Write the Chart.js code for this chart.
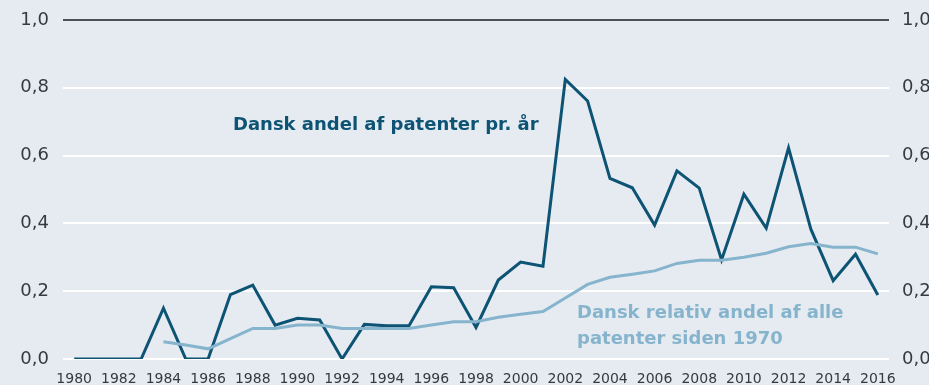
<!DOCTYPE html>
<html>
<head>
<meta charset="utf-8">
<script src="https://cdn.jsdelivr.net/npm/chart.js@4/dist/chart.umd.min.js"></script>
<style>
  html, body { margin: 0; padding: 0; background: #e5ebf1; }
  #wrap { width: 929px; height: 385px; position: relative; }
</style>
</head>
<body>
<div id="wrap"><canvas id="patentChart" width="929" height="385"></canvas></div>
<script>
// årstal på x-aksen
const years = [];
for (let y = 1980; y <= 2016; y++) years.push(String(y));

// dansk andel af patenter pr. år
const andelPrAar = [
  0, 0, 0, 0, 0.15, 0, 0, 0.19, 0.218, 0.10,
  0.12, 0.115, 0, 0.102, 0.098, 0.098, 0.213, 0.21, 0.093, 0.233,
  0.286, 0.274, 0.825, 0.761, 0.533, 0.505, 0.395, 0.555, 0.504, 0.292,
  0.486, 0.386, 0.623, 0.383, 0.231, 0.309, 0.189
];

// dansk relativ andel af alle patenter siden 1970 (fra 1984)
const relativAndel = [
  null, null, null, null, 0.051, 0.041, 0.03, 0.06, 0.09, 0.09,
  0.10, 0.10, 0.09, 0.09, 0.09, 0.09, 0.10, 0.11, 0.11, 0.123,
  0.132, 0.14, 0.18, 0.22, 0.241, 0.25, 0.26, 0.282, 0.291, 0.291,
  0.30, 0.312, 0.331, 0.341, 0.33, 0.33, 0.31
];

const yTicks = [0, 0.2, 0.4, 0.6, 0.8, 1.0];

const mørkBlaa = '#0d5374';
const lysBlaa = '#86b4cd';
const fontFam = '"DejaVu Sans", sans-serif';

function kommaTal(v) {
  return v.toFixed(1).replace('.', ',');
}

// tekster direkte i grafen
const serieTekster = {
  id: 'serieTekster',
  afterDatasetsDraw(chart) {
    const ctx = chart.ctx;
    ctx.save();
    ctx.font = 'bold 18px ' + fontFam;
    ctx.textBaseline = 'middle';
    ctx.textAlign = 'left';
    ctx.fillStyle = mørkBlaa;
    ctx.fillText('Dansk andel af patenter pr. år', 233, 125);
    ctx.fillStyle = lysBlaa;
    ctx.fillText('Dansk relativ andel af alle', 577, 313);
    ctx.fillText('patenter siden 1970', 577, 339);
    ctx.restore();
  }
};

function yAkse(pos) {
  return {
    position: pos,
    min: 0,
    max: 1,
    afterBuildTicks(axis) {
      axis.ticks = yTicks.map(v => ({ value: v }));
    },
    afterFit(axis) {
      axis.width = pos === 'left' ? 63 : 40;
      // plads i top styres af layout.padding
      axis.paddingTop = 0;
      axis.paddingBottom = 0;
    },
    border: { display: false },
    grid: {
      display: pos === 'left',
      drawTicks: false,
      lineWidth: 2,
      color: c => c.tick && c.tick.value === 1 ? '#4b5157' : '#ffffff'
    },
    ticks: {
      padding: pos === 'left' ? 14 : 13,
      color: '#333a40',
      font: { family: fontFam, size: 18 },
      callback: v => kommaTal(v)
    }
  };
}

new Chart(document.getElementById('patentChart'), {
  type: 'line',
  data: {
    labels: years,
    datasets: [
      {
        label: 'Dansk relativ andel af alle patenter siden 1970',
        data: relativAndel,
        borderColor: lysBlaa,
        borderWidth: 3,
        pointRadius: 0,
        tension: 0,
        spanGaps: false
      },
      {
        label: 'Dansk andel af patenter pr. år',
        data: andelPrAar,
        borderColor: mørkBlaa,
        borderWidth: 3,
        pointRadius: 0,
        tension: 0
      }
    ]
  },
  options: {
    responsive: false,
    animation: false,
    layout: { padding: { top: 20, bottom: 0, left: 0, right: 0 } },
    plugins: {
      legend: { display: false },
      tooltip: { enabled: false }
    },
    scales: {
      x: {
        offset: true,
        border: { display: false },
        grid: { display: false },
        afterFit(axis) { axis.height = 26; },
        ticks: {
          autoSkip: false,
          maxRotation: 0,
          padding: 4,
          color: '#333a40',
          font: { family: fontFam, size: 14 },
          callback: function (val, i) {
            return i % 2 === 0 ? this.getLabelForValue(val) : '';
          }
        }
      },
      y: yAkse('left'),
      y2: yAkse('right')
    }
  },
  plugins: [serieTekster]
});
</script>
</body>
</html>
